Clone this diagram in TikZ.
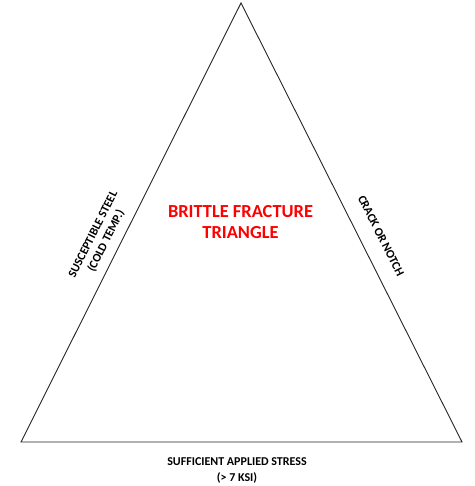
\documentclass[tikz,border=0pt]{standalone}
\usepackage{fontspec}
\setmainfont{Carlito}
\begin{document}
\begin{tikzpicture}[x=1pt,y=-1pt,
  side/.style={draw=black!85,line width=0.9pt,line join=miter},
  lbl/.style={font=\bfseries\fontsize{12}{14.5}\selectfont,align=center,inner sep=0pt},
  ttl/.style={font=\bfseries\fontsize{18.4}{21}\selectfont,align=center,text=red,inner sep=0pt}]
\useasboundingbox (0,0) rectangle (474,486);
\coordinate (top) at (241,3);
\coordinate (bl) at (21,442);
\coordinate (br) at (462,442);
\draw[side] (top) -- (bl) -- (br) -- cycle;
\node[ttl] (title) at (240.5,222.5) {BRITTLE FRACTURE\\TRIANGLE};
\node[lbl] (left) at (100,238) [rotate=63.4] {SUSCEPTIBLE STEEL\\(COLD TEMP.)};
\node[lbl] (right) at (381,236) [rotate=-63.4] {CRACK OR NOTCH};
\node[lbl,font=\bfseries\fontsize{12}{16}\selectfont] (bottom) at (237,470) {SUFFICIENT APPLIED STRESS\\(> 7 KSI)};
\end{tikzpicture}
\end{document}
